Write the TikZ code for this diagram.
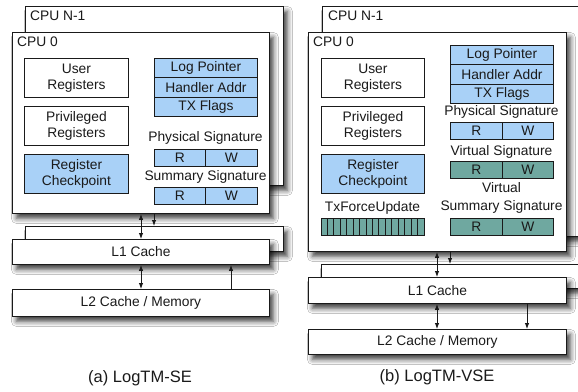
\documentclass[tikz,border=0pt]{standalone}
\usepackage{fontspec}
\setmainfont{Liberation Sans}
\usepackage{xcolor}
\usetikzlibrary{arrows.meta,positioning,shadows.blur}
\definecolor{ltInk}{HTML}{1A1A1A}
\definecolor{ltBlue}{HTML}{A9D1F7}
\definecolor{ltTeal}{HTML}{6FA8A0}
\tikzset{
  boxbase/.style={rectangle,anchor=north west,inner sep=0pt,
    draw=ltInk,line width=0.9pt,align=center,
    font=\fontsize{13.8}{16}\selectfont,text=ltInk},
  cpubox/.style={boxbase,fill=white,
    blur shadow={shadow xshift=4pt,shadow yshift=-5pt,
      shadow blur radius=5pt,shadow opacity=75}},
  membox/.style={cpubox},
  regbox/.style={boxbase,fill=white,minimum width=104pt,minimum height=39pt},
  ckbox/.style={regbox,fill=ltBlue},
  rowbox/.style={boxbase,fill=ltBlue,minimum width=103pt,minimum height=19.33pt},
  rcell/.style={boxbase,fill=ltBlue,minimum width=51pt,minimum height=17pt},
  wcell/.style={boxbase,fill=ltBlue,minimum width=52pt,minimum height=17pt},
  lbl/.style={font=\fontsize{13.8}{18}\selectfont,text=ltInk,inner sep=0pt,align=center},
  cpulbl/.style={lbl,anchor=west},
  caplbl/.style={font=\fontsize{16.5}{18}\selectfont,text=ltInk,inner sep=0pt},
  arr/.style={-{Latex[length=6pt,width=4.5pt]},line width=0.9pt,color=ltInk},
  arrb/.style={{Latex[length=6pt,width=4.5pt]}-{Latex[length=6pt,width=4.5pt]},line width=0.9pt,color=ltInk},
}

\begin{document}
\begin{tikzpicture}[x=1pt,y=-1pt]
  \useasboundingbox[fill=white] (0,0) rectangle (578,391);

  % ---------------- (a) LogTM-SE ----------------
  \node[cpubox,minimum width=258pt,minimum height=179pt] (cpuNA) at (25,6) {};
  \node[cpulbl] (cpuNAl) at (30,16) {CPU N-1};
  \node[cpubox,minimum width=257pt,minimum height=181pt] (cpuA) at (12,32) {};
  \node[cpulbl] (cpuAl) at (17,42) {CPU 0};

  \node[regbox] (userA) at (24,58) {User\\Registers};
  \node[regbox] (privA) at (24,106) {Privileged\\Registers};
  \node[ckbox] (ckptA) at (24,154) {Register\\Checkpoint};

  \node[rowbox] (logA) at (154,58) {Log Pointer};
  \node[rowbox] (hndA) at (154,77.33) {Handler Addr};
  \node[rowbox] (txfA) at (154,96.67) {TX Flags};

  \node[lbl] (physAl) at (205.5,138) {Physical Signature};
  \node[rcell] (physAr) at (154,149) {R};
  \node[wcell] (physAw) at (205,149) {W};

  \node[lbl] (sumAl) at (205.5,177) {Summary Signature};
  \node[rcell] (sumAr) at (154,187) {R};
  \node[wcell] (sumAw) at (205,187) {W};

  \node[membox,minimum width=258pt,minimum height=25pt] (l1NA) at (25,226) {};
  \node[membox,minimum width=257pt,minimum height=25pt] (l1A) at (12,239) {L1 Cache};
  \node[membox,minimum width=257pt,minimum height=27pt] (l2A) at (12,289) {L2 Cache / Memory};

  \coordinate (xa1) at (141,0);
  \coordinate (xa2) at (154,0);
  \coordinate (xa3) at (231,0);
  \draw[arrb] (cpuA.south -| xa1) -- (l1A.north -| xa1);
  \draw[arr] (cpuA.south -| xa2) -- (l1NA.north -| xa2);
  \draw[arrb] (l1A.south -| xa1) -- (l2A.north -| xa1);
  \draw[arr] (l2A.north -| xa3) -- (l1A.south -| xa3);

  \node[caplbl] (capA) at (140,378) {(a) LogTM-SE};

  % ---------------- (b) LogTM-VSE ----------------
  \node[cpubox,minimum width=300pt,minimum height=230pt] (cpuNB) at (322,6) {};
  \node[cpulbl] (cpuNBl) at (328,16) {CPU N-1};
  \node[cpubox,minimum width=258pt,minimum height=219pt] (cpuB) at (308,32) {};
  \node[cpulbl] (cpuBl) at (313,42) {CPU 0};

  \node[regbox,minimum width=103pt] (userB) at (321,58) {User\\Registers};
  \node[regbox,minimum width=103pt] (privB) at (321,106) {Privileged\\Registers};
  \node[ckbox,minimum width=103pt] (ckptB) at (321,154) {Register\\Checkpoint};

  \node[lbl] (tfuBl) at (372.5,208) {TxForceUpdate};
  \node[boxbase,fill=ltTeal,minimum width=103pt,minimum height=17pt] (tfuB) at (321,218) {};
  \foreach \i in {1,...,15}
    \draw[ltInk,line width=0.9pt] ([xshift=\i*6.4375pt]tfuB.north west) -- ([xshift=\i*6.4375pt]tfuB.south west);

  \node[rowbox] (logB) at (450,45) {Log Pointer};
  \node[rowbox] (hndB) at (450,64.33) {Handler Addr};
  \node[rowbox] (txfB) at (450,83.67) {TX Flags};

  \node[lbl] (physBl) at (501.5,112) {Physical Signature};
  \node[wcell] (physBr) at (450,122) {R};
  \node[rcell] (physBw) at (502,122) {W};

  \node[lbl] (virtBl) at (501.5,152) {Virtual Signature};
  \node[wcell,fill=ltTeal] (virtBr) at (450,161) {R};
  \node[rcell,fill=ltTeal] (virtBw) at (502,161) {W};

  \node[lbl] (vsumBl) at (501.5,198) {Virtual\\Summary Signature};
  \node[wcell,fill=ltTeal] (vsumBr) at (450,218) {R};
  \node[rcell,fill=ltTeal] (vsumBw) at (502,218) {W};

  \node[membox,minimum width=300pt,minimum height=24pt] (l1NB) at (321,264) {};
  \node[membox,minimum width=258pt,minimum height=26pt] (l1B) at (308,277) {L1 Cache};
  \node[membox,minimum width=258pt,minimum height=25pt] (l2B) at (308,329) {L2 Cache / Memory};

  \coordinate (xb1) at (437,0);
  \coordinate (xb2) at (450,0);
  \coordinate (xb3) at (527,0);
  \draw[arrb] (cpuB.south -| xb1) -- (l1B.north -| xb1);
  \draw[arr] (cpuB.south -| xb2) -- (l1NB.north -| xb2);
  \draw[arrb] (l1B.south -| xb1) -- (l2B.north -| xb1);
  \draw[arr] (l1B.south -| xb3) -- (l2B.north -| xb3);

  \node[caplbl] (capB) at (437,377) {(b) LogTM-VSE};

\end{tikzpicture}
\end{document}
